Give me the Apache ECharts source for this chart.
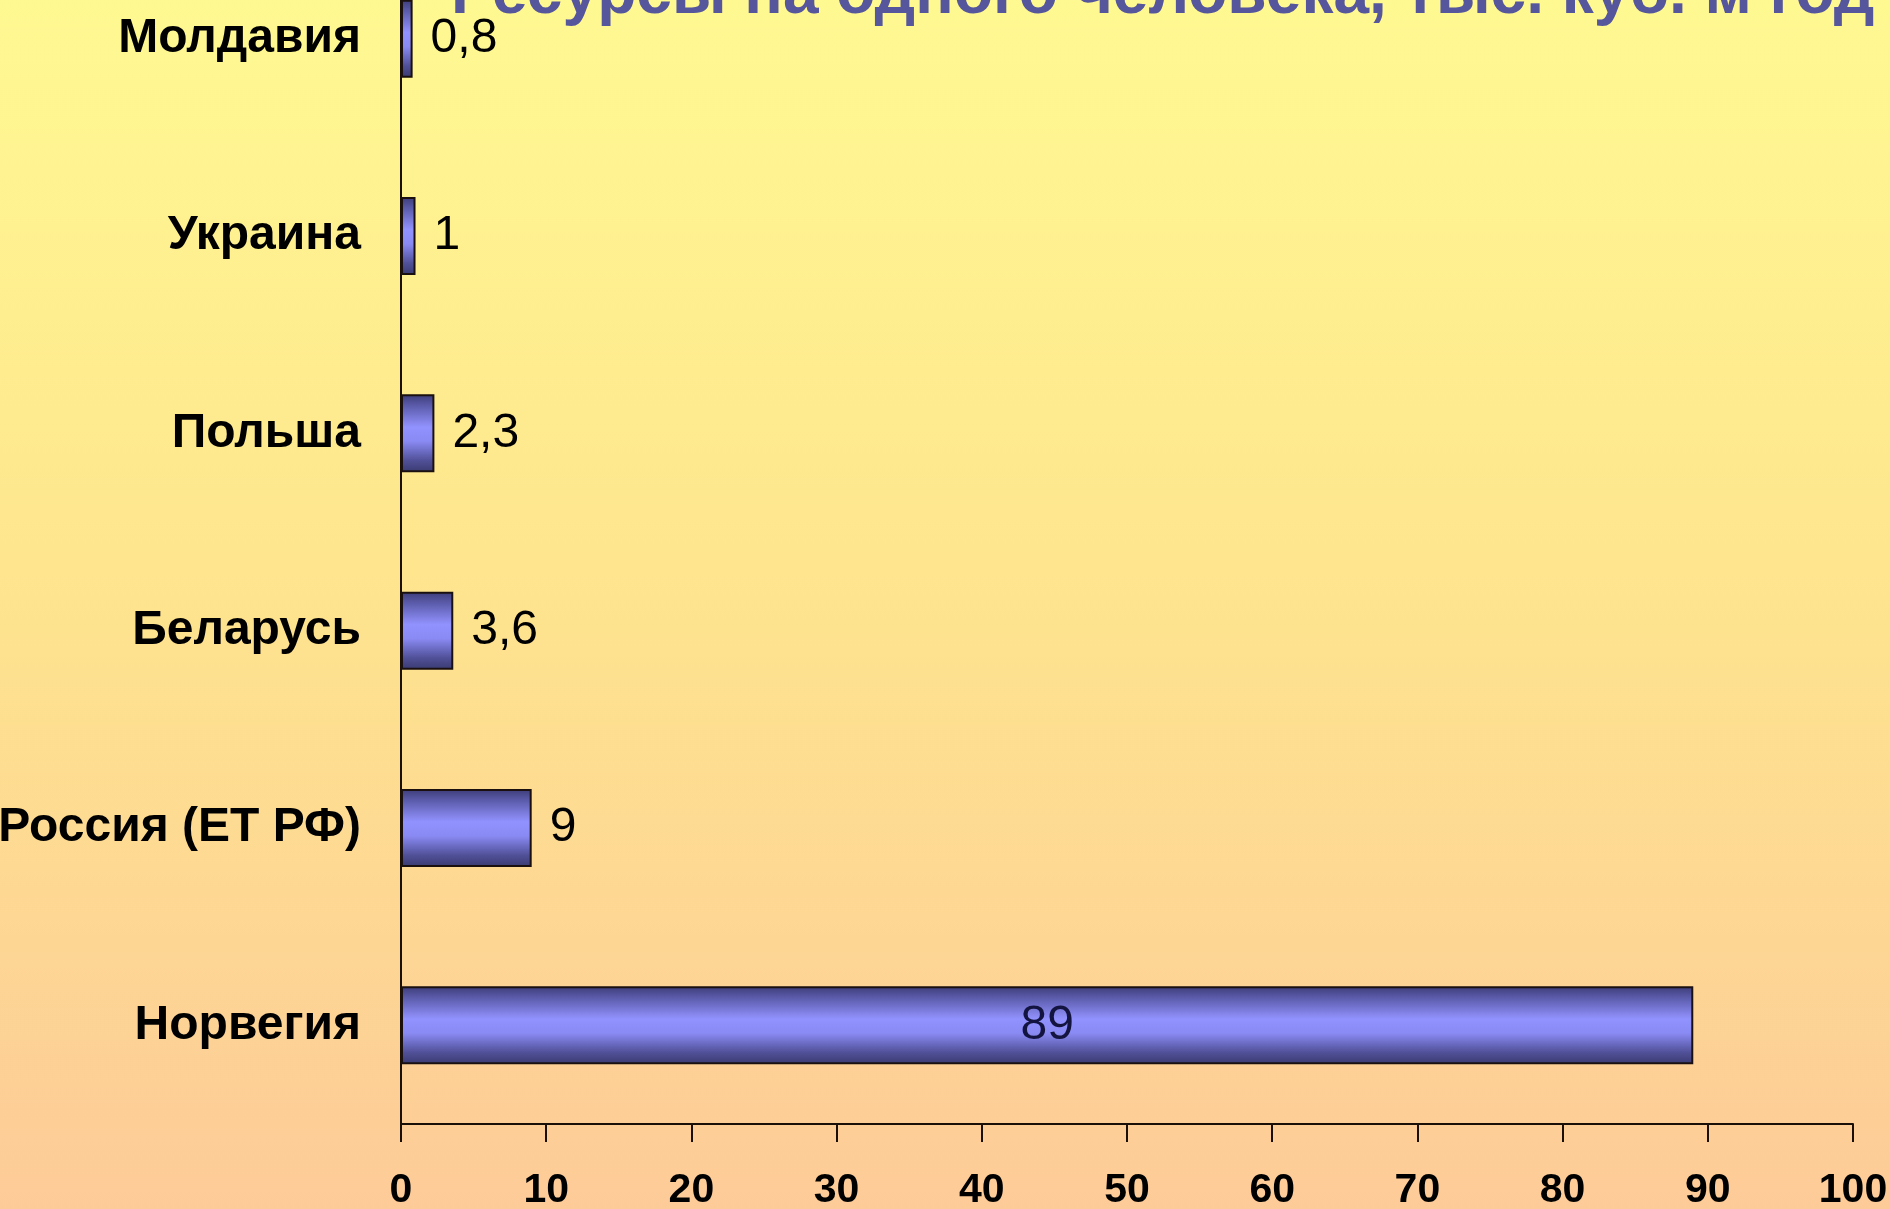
<!DOCTYPE html>
<html>
<head>
<meta charset="utf-8">
<title>Ресурсы на одного человека</title>
<script src="https://cdn.jsdelivr.net/npm/echarts@6/dist/echarts.min.js"></script>
<style>
    html, body { margin: 0; padding: 0; overflow: hidden; }
    /* верх слайда обрезан: сдвигаем холст вверх */
    #main { width: 1890px; height: 1269px; margin-top: -60px; }
</style>
</head>
<body>
<div id="main"></div>
<script>
// страны (сверху вниз) и ресурсы на одного человека, тыс. куб. м в год
let countries = ['Молдавия', 'Украина', 'Польша', 'Беларусь', 'Россия (ЕТ РФ)', 'Норвегия'];
let resources = [0.8, 1, 2.3, 3.6, 9, 89];
let axisTicks = [0, 10, 20, 30, 40, 50, 60, 70, 80, 90, 100];

let myChart = echarts.init(document.getElementById('main'));

// длинный столбик подписываем внутри, остальные справа
let barData = resources.map(function (v) {
    if (v > 50) {
        return {value: v, label: {position: 'inside', color: '#141440'}};
    }
    return v;
});

let option = {
    backgroundColor: new echarts.graphic.LinearGradient(0, 0, 0, 1, [
        {offset: 0, color: '#fffb92'},
        {offset: 0.5, color: '#fee58e'},
        {offset: 1, color: '#fdcb98'}
    ]),
    // заголовок слайда, обрезан сверху
    title: {
        text: 'Ресурсы на одного человека, тыс. куб. м год',
        left: 446,
        top: 18,
        textStyle: {
            color: '#56569c',
            fontFamily: 'Liberation Sans',
            fontWeight: 'bold',
            fontSize: 64,
            lineHeight: 64
        }
    },
    grid: {
        left: 401,
        right: 37,
        top: 0,
        bottom: 85,
        outerBoundsMode: 'none'
    },
    xAxis: {
        type: 'value',
        min: axisTicks[0],
        max: axisTicks[axisTicks.length - 1],
        interval: axisTicks[1] - axisTicks[0],
        axisLine: {show: true, lineStyle: {color: '#1a1008', width: 2}},
        axisTick: {show: true, length: 18, lineStyle: {color: '#1a1008', width: 2}},
        splitLine: {show: false},
        axisLabel: {
            margin: 46,
            color: '#000',
            fontFamily: 'Liberation Sans',
            fontWeight: 'bold',
            fontSize: 41
        }
    },
    yAxis: {
        type: 'category',
        inverse: true,
        data: countries,
        axisLine: {show: true, lineStyle: {color: '#1a1008', width: 2}},
        axisTick: {show: false},
        axisLabel: {
            margin: 40,
            color: '#000',
            fontFamily: 'Liberation Sans',
            fontWeight: 'bold',
            fontSize: 48
        }
    },
    series: [
        {
            type: 'bar',
            data: barData,
            barWidth: 78,
            itemStyle: {
                borderColor: '#1a1010',
                borderWidth: 2,
                color: new echarts.graphic.LinearGradient(0, 0, 0, 1, [
                    {offset: 0, color: '#3c3c78'},
                    {offset: 0.15, color: '#5c5cac'},
                    {offset: 0.42, color: '#9292ff'},
                    {offset: 0.6, color: '#8a8af4'},
                    {offset: 0.85, color: '#505098'},
                    {offset: 1, color: '#3a3a70'}
                ])
            },
            label: {
                show: true,
                position: 'right',
                distance: 18,
                color: '#000',
                fontFamily: 'Liberation Sans',
                fontSize: 48,
                formatter: function (p) {
                    return String(p.value).replace('.', ',');
                }
            }
        }
    ]
};

myChart.setOption(option);
</script>
</body>
</html>
